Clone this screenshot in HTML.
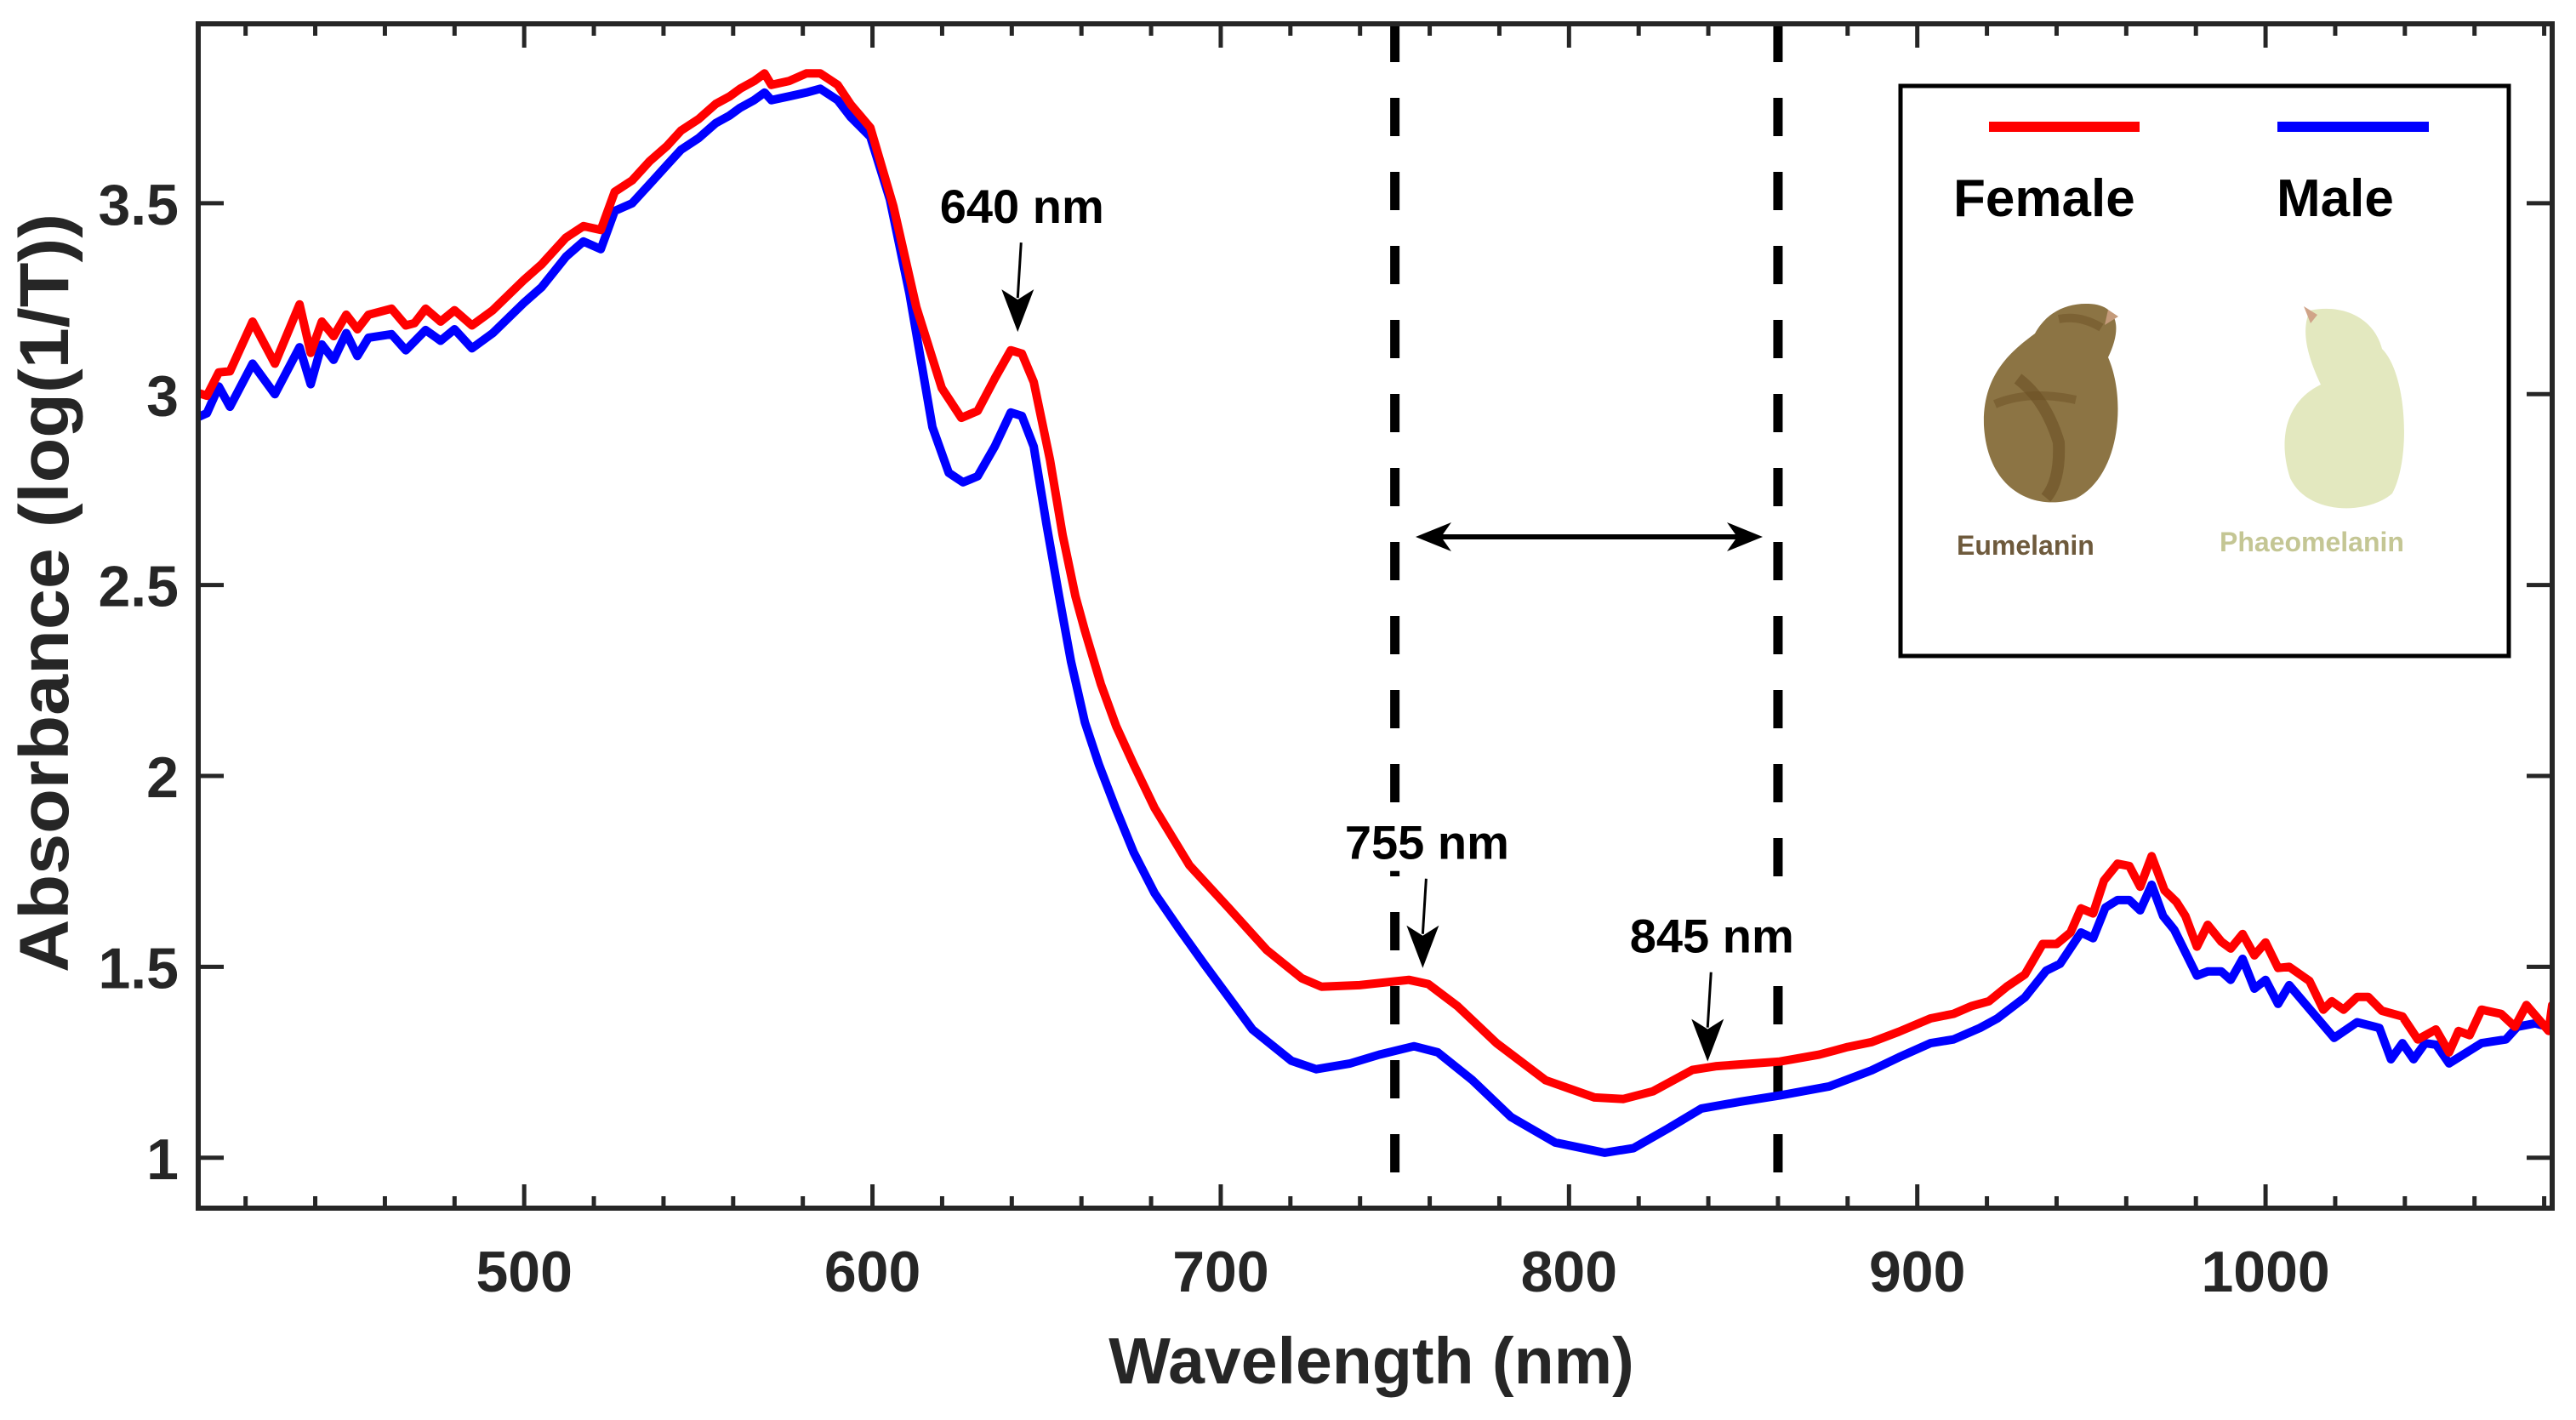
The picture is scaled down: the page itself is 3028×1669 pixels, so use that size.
<!DOCTYPE html>
<html><head><meta charset="utf-8"><style>
html,body{margin:0;padding:0;background:#fff;}
svg{display:block;font-family:"Liberation Sans",Arial,sans-serif;}
</style></head><body>
<svg id="chart" width="3028" height="1669" viewBox="0 0 3028 1669" xmlns="http://www.w3.org/2000/svg">
<rect width="3028" height="1669" fill="#fff"/>
<g id="plot"></g>
</svg>
<script>
const xTicksMajor = [500,600,700,800,900,1000];
const xTickLabels = ["500","600","700","800","900","1000"];
const yTicks = [1,1.5,2,2.5,3,3.5];
const yTickLabels = ["1","1.5","2","2.5","3","3.5"];
const markerLines = [750,860];
const femaleSpectrum = [[406.4,3.003],[408.9,2.996],[412.3,3.057],[415.5,3.06],[422,3.19],[428.4,3.08],[435.5,3.235],[438.7,3.108],[441.9,3.19],[445.3,3.152],[448.9,3.208],[452.1,3.17],[455.3,3.208],[461.9,3.224],[466,3.18],[468.5,3.186],[471.7,3.224],[476,3.19],[480,3.22],[485,3.18],[491,3.22],[500,3.30],[505,3.34],[512,3.41],[517,3.44],[522,3.43],[526,3.53],[531,3.56],[536,3.61],[541,3.65],[545,3.69],[550,3.72],[555,3.76],[559,3.78],[562,3.80],[566,3.82],[569,3.84],[571,3.81],[576,3.82],[581,3.84],[585,3.84],[590,3.81],[593.8,3.758],[599.4,3.698],[606,3.493],[612.6,3.228],[619.9,3.016],[625.5,2.938],[630.2,2.956],[635.1,3.041],[639.7,3.115],[642.9,3.106],[646.3,3.032],[651,2.827],[654.6,2.631],[658.3,2.47],[661,2.38],[665.6,2.24],[670,2.13],[675,2.03],[681,1.916],[691,1.766],[702.2,1.655],[713.2,1.544],[723.3,1.47],[728.9,1.448],[739.9,1.452],[754,1.466],[759.6,1.455],[768,1.397],[779.2,1.30],[793.3,1.203],[807.3,1.158],[815.6,1.154],[824.1,1.174],[835.4,1.23],[842.4,1.24],[860.5,1.252],[871.8,1.27],[880,1.29],[886.9,1.303],[894.7,1.33],[903.8,1.365],[910.4,1.377],[915.5,1.397],[920.6,1.41],[925.7,1.448],[930.9,1.48],[936,1.56],[940,1.56],[944,1.59],[947,1.653],[950.5,1.64],[953.6,1.726],[957.5,1.77],[960.9,1.764],[964,1.71],[967.3,1.79],[971,1.70],[974.4,1.67],[977,1.633],[980.3,1.553],[983.4,1.61],[987.3,1.566],[990,1.548],[993.4,1.586],[996.8,1.53],[1000,1.564],[1003.6,1.497],[1006.8,1.50],[1012.6,1.463],[1016.6,1.388],[1019,1.41],[1022.4,1.388],[1026.3,1.421],[1029.5,1.421],[1033.4,1.385],[1039.3,1.37],[1043.7,1.31],[1048.9,1.336],[1052.7,1.276],[1055.4,1.332],[1058.6,1.321],[1062,1.388],[1067.6,1.377],[1071.6,1.343],[1074.9,1.40],[1081.3,1.332],[1082.3,1.40]];
const maleSpectrum = [[406.4,2.94],[408.9,2.95],[412.3,3.02],[415.5,2.967],[422,3.08],[428.4,3.0],[435.5,3.123],[438.7,3.026],[441.9,3.13],[445.3,3.09],[448.9,3.16],[452.1,3.10],[455.3,3.148],[461.9,3.157],[466,3.115],[471.7,3.168],[476,3.14],[480,3.17],[485,3.12],[491,3.16],[500,3.24],[505,3.28],[512,3.36],[517,3.40],[522,3.38],[526,3.48],[531,3.50],[536,3.55],[541,3.60],[545,3.64],[550,3.67],[555,3.71],[559,3.73],[562,3.75],[566,3.77],[569,3.79],[571,3.77],[576,3.78],[581,3.79],[585,3.80],[590,3.77],[593.8,3.725],[599.4,3.674],[605,3.51],[610.6,3.264],[617.2,2.914],[621.9,2.794],[626,2.769],[630.2,2.785],[635.1,2.863],[639.7,2.952],[642.9,2.943],[646.3,2.863],[650,2.658],[653.6,2.47],[657,2.30],[661,2.14],[665,2.03],[669.8,1.916],[675,1.80],[681,1.693],[688,1.60],[695.2,1.508],[709.1,1.336],[720.3,1.254],[727.4,1.232],[737.2,1.247],[745.5,1.27],[755.5,1.292],[762.3,1.276],[772.3,1.203],[783.3,1.107],[796,1.04],[810.2,1.013],[818.5,1.025],[828.3,1.076],[838,1.129],[849.3,1.147],[860.5,1.163],[874.7,1.187],[886.9,1.229],[894.7,1.263],[903.8,1.30],[910.4,1.31],[918,1.34],[923,1.365],[930.9,1.42],[937,1.49],[941,1.508],[947,1.59],[950.5,1.575],[954,1.655],[957.5,1.675],[960.9,1.675],[964,1.648],[967.3,1.715],[970.6,1.633],[973.8,1.597],[980.3,1.477],[983.4,1.488],[987.3,1.488],[990,1.466],[993.4,1.521],[996.8,1.443],[1000,1.466],[1003.6,1.403],[1006.8,1.452],[1019.7,1.314],[1026.3,1.355],[1032.7,1.34],[1036,1.258],[1039.3,1.30],[1042.5,1.258],[1045.8,1.30],[1049,1.296],[1052.7,1.247],[1062,1.30],[1069,1.31],[1072.3,1.343],[1077.4,1.352],[1082.3,1.34]];
const annotationLabels = ["640 nm","755 nm","845 nm"];
const annotationNm = [641.7,758,839.8];
const annotationTipValue = [3.163,1.497,1.252];

const L=233,R=3000,T=28,B=1420;
const X0=406.4,X1=1082.3,Y0=0.868,Y1=3.97;
function sx(v){return L+(v-X0)/(X1-X0)*(R-L);}
function sy(v){return B-(v-Y0)/(Y1-Y0)*(B-T);}
const NS="http://www.w3.org/2000/svg";
const g=document.getElementById('plot');
function el(tag,attrs,parent){const e=document.createElementNS(NS,tag);for(const k in attrs)e.setAttribute(k,attrs[k]);(parent||g).appendChild(e);return e;}

const defs=el('defs',{});
const cp=el('clipPath',{id:'clip'},defs);
el('rect',{x:L,y:T,width:R-L,height:B-T},cp);

for(let v=420;v<=1080;v+=20){
  const major=v%100===0;
  const len=major?28:14;
  const x=sx(v);
  const t1=el('line',{x1:x,y1:B,x2:x,y2:B-len,stroke:'#262626','stroke-width':5});
  
  
  const t2=el('line',{x1:x,y1:T,x2:x,y2:T+len,stroke:'#262626','stroke-width':5});
  
  
}
xTicksMajor.forEach((v,i)=>{
  const t=el('text',{x:sx(v),y:1518,'text-anchor':'middle','font-size':68,'font-weight':'bold',fill:'#262626'});
  t.textContent=xTickLabels[i];
  
  
});
yTicks.forEach((v,i)=>{
  const y=sy(v);
  const a=el('line',{x1:L,y1:y,x2:L+30,y2:y,stroke:'#262626','stroke-width':5});
  
  
  const b=el('line',{x1:R,y1:y,x2:R-30,y2:y,stroke:'#262626','stroke-width':5});
  
  
  const t=el('text',{x:210,y:y+25,'text-anchor':'end','font-size':68,'font-weight':'bold',fill:'#262626'});
  t.textContent=yTickLabels[i];
  
  
});

markerLines.forEach(v=>{
  const m=el('line',{x1:sx(v),y1:T,x2:sx(v),y2:B,stroke:'#000','stroke-width':11,'stroke-dasharray':'45 42'});
  
  
});

function drawSeries(data,color,name){
  const pts=data.map(d=>sx(d[0]).toFixed(1)+','+sy(d[1]).toFixed(1)).join(' ');
  const p=el('polyline',{points:pts,fill:'none',stroke:color,'stroke-width':10,'stroke-linejoin':'round','stroke-linecap':'round','clip-path':'url(#clip)'});
  
  
}
drawSeries(maleSpectrum,'#0000ff','male-series');
drawSeries(femaleSpectrum,'#ff0000','female-series');

const box=el('rect',{x:L,y:T,width:R-L,height:B-T,fill:'none',stroke:'#262626','stroke-width':6});



annotationLabels.forEach((lab,i)=>{
  const x=sx(annotationNm[i]);const tipY=sy(annotationTipValue[i]);
  const startY=tipY-105;
  const ty=tipY-128;
  const bg=el('rect',{x:x-92,y:ty-48,width:194,height:62,fill:'#fff'});
  
  
  const t=el('text',{x:x+5,y:ty,'text-anchor':'middle','font-size':56,'font-weight':'bold',fill:'#000'});
  t.textContent=lab;
  
  
  const ln=el('line',{x1:x+4,y1:startY,x2:x,y2:tipY-40,stroke:'#000','stroke-width':3});
  
  
  const hd=el('polygon',{points:`${x-19},${tipY-50} ${x},${tipY-38} ${x+19},${tipY-50} ${x},${tipY}`,fill:'#000'});
  
  
});

(function(){
  const y=631,x1=1664,x2=2072;
  const ln=el('line',{x1:x1+30,y1:y,x2:x2-30,y2:y,stroke:'#000','stroke-width':6});
  
  
  const h1=el('polygon',{points:`${x1},${y} ${x1+42},${y-17} ${x1+30},${y} ${x1+42},${y+17}`,fill:'#000'});
  
  
  const h2=el('polygon',{points:`${x2},${y} ${x2-42},${y-17} ${x2-30},${y} ${x2-42},${y+17}`,fill:'#000'});
  
  
})();
</script>
<svg style="position:absolute;left:0;top:0" width="3028" height="1669" viewBox="0 0 3028 1669" xmlns="http://www.w3.org/2000/svg">
<text x="1612" y="1626" text-anchor="middle" font-family="Liberation Sans, Arial, sans-serif" font-size="77" font-weight="bold" fill="#262626">Wavelength (nm)</text>
<text transform="translate(80,697) rotate(-90)" x="0" y="0" text-anchor="middle" textLength="892" lengthAdjust="spacingAndGlyphs" font-family="Liberation Sans, Arial, sans-serif" font-size="82" font-weight="bold" fill="#262626">Absorbance (log(1/T))</text>
<g>
<rect x="2234" y="101" width="715" height="670" fill="#fff" stroke="#000" stroke-width="5"/>
<rect x="2338" y="143" width="177" height="12" fill="#ff0000"/>
<rect x="2677" y="143" width="178" height="12" fill="#0000ff"/>
<text x="2296" y="254" font-family="Liberation Sans, Arial, sans-serif" font-size="62" font-weight="bold" fill="#000">Female</text>
<text x="2676" y="254" font-family="Liberation Sans, Arial, sans-serif" font-size="62" font-weight="bold" fill="#000">Male</text>
<g>
<path d="M2455,357 C2490,358 2495,385 2478,420 C2500,470 2492,560 2440,586 C2390,602 2336,575 2332,500 C2330,440 2365,412 2392,392 C2405,368 2428,356 2455,357 Z" fill="#8c7444"/>
<path d="M2372,445 Q2405,470 2420,520 Q2422,565 2405,585" stroke="#6b5024" stroke-width="14" fill="none" opacity="0.6"/>
<path d="M2345,475 Q2385,458 2440,470" stroke="#6b5024" stroke-width="10" fill="none" opacity="0.5"/>
<path d="M2420,375 Q2445,370 2470,385" stroke="#6b5024" stroke-width="10" fill="none" opacity="0.5"/>
<polygon points="2478,364 2490,372 2474,382" fill="#c49a7a"/>
</g>
<g>
<path d="M2715,365 C2752,357 2790,372 2800,410 C2830,440 2834,540 2812,580 C2782,606 2712,605 2692,562 C2676,512 2690,470 2728,452 C2713,420 2704,390 2715,365 Z" fill="#e3e8bf"/>
<polygon points="2708,360 2724,370 2716,380" fill="#d0a488"/>
</g>
<text x="2300" y="652" font-family="Liberation Sans, Arial, sans-serif" font-size="32" font-weight="bold" fill="#6e5a3c">Eumelanin</text>
<text x="2609" y="648" font-family="Liberation Sans, Arial, sans-serif" font-size="32" font-weight="bold" fill="#c4c694">Phaeomelanin</text>
</g>
</svg>
</body></html>
